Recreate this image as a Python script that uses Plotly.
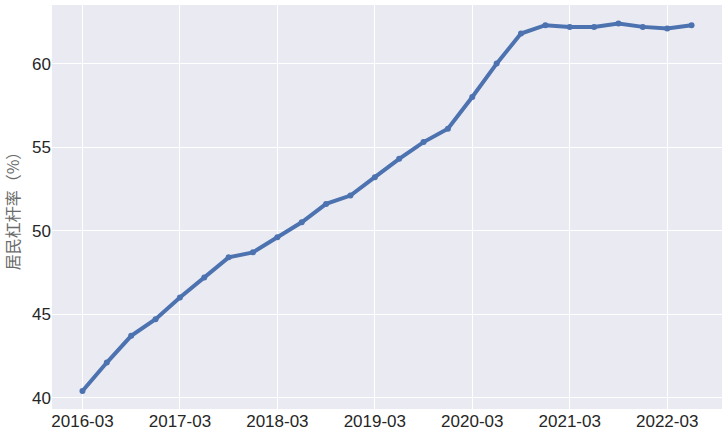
import plotly.graph_objects as go

quarters = ["2016-03", "2016-06", "2016-09", "2016-12",
            "2017-03", "2017-06", "2017-09", "2017-12",
            "2018-03", "2018-06", "2018-09", "2018-12",
            "2019-03", "2019-06", "2019-09", "2019-12",
            "2020-03", "2020-06", "2020-09", "2020-12",
            "2021-03", "2021-06", "2021-09", "2021-12",
            "2022-03", "2022-06"]
leverage = [40.4, 42.1, 43.7, 44.7,
            46.0, 47.2, 48.4, 48.7,
            49.6, 50.5, 51.6, 52.1,
            53.2, 54.3, 55.3, 56.1,
            58.0, 60.0, 61.8, 62.3,
            62.2, 62.2, 62.4, 62.2,
            62.1, 62.3]
tick_labels = ["2016-03", "2017-03", "2018-03", "2019-03", "2020-03", "2021-03", "2022-03"]
y_ticks = [40, 45, 50, 55, 60]

x_idx = list(range(len(quarters)))
tick_idx = [quarters.index(t) for t in tick_labels]

fig = go.Figure()
fig.add_trace(go.Scatter(
    x=x_idx, y=leverage, mode="lines+markers",
    line=dict(color="#4C72B0", width=4),
    marker=dict(color="#4C72B0", size=6),
    hoverinfo="x+y",
))

n = len(quarters) - 1
fig.update_layout(
    width=728, height=439,
    margin=dict(l=52, r=6, t=5, b=30, autoexpand=False),
    paper_bgcolor="white",
    plot_bgcolor="#EAEAF2",
    showlegend=False,
    font=dict(family="Liberation Sans, Arial, sans-serif", size=17, color="#262626"),
    xaxis=dict(
        range=[-0.05 * n, n + 0.05 * n],
        tickmode="array", tickvals=tick_idx, ticktext=tick_labels,
        showgrid=True, gridcolor="white", gridwidth=1,
        zeroline=False, showline=False, ticks="",
        tickfont=dict(size=17, color="#262626"),
    ),
    yaxis=dict(
        range=[39.32, 63.51],
        tickmode="array", tickvals=y_ticks,
        showgrid=True, gridcolor="white", gridwidth=1,
        zeroline=False, showline=False, ticks="",
        tickfont=dict(size=17, color="#262626"),
        title=dict(text="居民杠杆率（%）", standoff=8,
                   font=dict(family="Noto Sans CJK SC", size=16, color="#6b6b6b")),
    ),
)

fig.write_html("out.html",
               config={"displayModeBar": False},
               post_script="document.body.style.margin='0';document.body.style.overflow='hidden';")
